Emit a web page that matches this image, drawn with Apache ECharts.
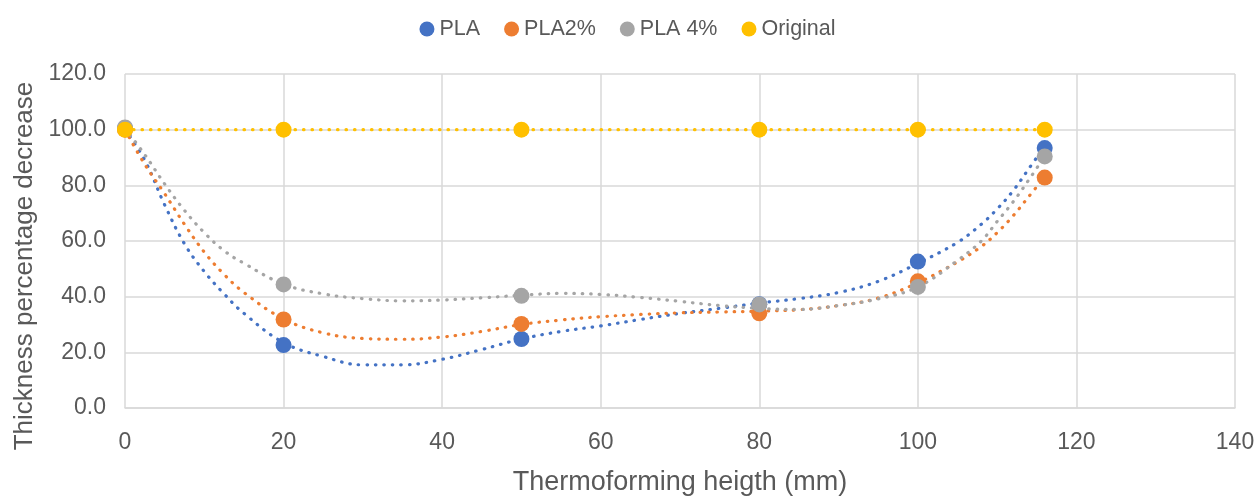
<!DOCTYPE html>
<html>
<head>
<meta charset="utf-8">
<script src="https://cdn.jsdelivr.net/npm/echarts@6/dist/echarts.min.js"></script>
<style>
  html, body { margin: 0; padding: 0; background: #fff; }
  #main { width: 1255px; height: 497px; }
</style>
</head>
<body>
<div id="main"></div>
<script>
// measured points
const xValues = [0, 20, 50, 80, 100, 116];
const pla = [100.5, 22.6, 24.8, 37.3, 52.6, 93.4];
const pla2 = [100, 31.8, 30.2, 34.0, 45.5, 82.8];
const pla4 = [100.8, 44.4, 40.3, 37.2, 43.5, 90.4];
const original = [100, 100, 100, 100, 100, 100];

// trendlines
const trendX = [0, 2.5, 5, 7.5, 10, 12.5, 15, 20, 25, 30, 35, 40, 45, 50, 55, 60, 65, 70, 75, 80, 85, 90, 95, 100, 105, 108, 110, 112, 114, 116];
const plaTrend = [100, 89, 73, 59, 49, 41, 34, 23.5, 18.5, 15.5, 15.5, 17.5, 21, 24.8, 27.5, 29.5, 31.8, 34, 35.8, 37.7, 39.3, 41.5, 45.5, 52, 59.5, 66, 71.5, 78, 86, 94];
const pla2Trend = [100, 87.5, 77, 66, 56, 48, 41.5, 32, 27, 25, 24.7, 25.5, 27.5, 30, 31.6, 32.8, 33.6, 34.2, 34.5, 34.8, 35.3, 36.8, 39.5, 45, 52.5, 58, 63, 69, 76, 83];
const pla4Trend = [100.5, 91, 80.5, 71, 63, 56.5, 52, 44.5, 41, 39.3, 38.5, 38.8, 39.6, 40.5, 41.2, 40.8, 39.7, 38.3, 36.8, 35.8, 35.4, 36.8, 39.2, 43.5, 53, 60, 67, 74, 82, 90.5];

const names = ["PLA", "PLA2%", "PLA 4%", "Original"];
const colors = ["#4472C4", "#ED7D31", "#A5A5A5", "#FFC000"];

const pairs = (xs, ys) => xs.map((x, i) => [x, ys[i]]);
const dotLine = (color) => ({ color: color, width: 3.2, type: [0.5, 8], cap: "round" });

const trendSeries = [plaTrend, pla2Trend, pla4Trend].map((ys, i) => ({
    name: names[i] + " trend",
    type: "line",
    data: pairs(trendX, ys),
    smooth: 0.4,
    showSymbol: false,
    silent: true,
    lineStyle: dotLine(colors[i]),
    z: 1,
}));

const pointSeries = [pla, pla2, pla4, original].map((ys, i) => ({
    name: names[i],
    type: i === 3 ? "line" : "scatter",
    data: pairs(xValues, ys),
    symbol: "circle",
    symbolSize: 16,
    showSymbol: true,
    itemStyle: { color: colors[i], opacity: 1 },
    lineStyle: i === 3 ? dotLine(colors[i]) : undefined,
    z: 3 + i,
}));

const textColor = "#595959";
const font = "Liberation Sans, Arial, sans-serif";

const option = {
    animation: false,
    backgroundColor: "#fff",
    textStyle: { fontFamily: font },
    legend: {
        data: names,
        top: 13,
        left: "center",
        icon: "circle",
        itemWidth: 15,
        itemHeight: 15,
        itemGap: 24,
        textStyle: { color: textColor, fontSize: 21.5, fontFamily: font },
    },
    grid: { left: 125, right: 20, top: 74, bottom: 89, outerBoundsMode: "none" },
    xAxis: {
        type: "value",
        min: 0,
        max: 140,
        interval: 20,
        name: "Thermoforming heigth (mm)",
        nameLocation: "middle",
        nameGap: 61,
        nameTextStyle: { color: textColor, fontSize: 27, fontFamily: font },
        axisLine: { show: true, lineStyle: { color: "#d9d9d9", width: 1.5 } },
        axisTick: { show: false },
        axisLabel: { color: textColor, fontSize: 23, margin: 23, fontFamily: font },
        splitLine: { show: true, lineStyle: { color: "#d9d9d9", width: 1.5 } },
    },
    yAxis: {
        type: "value",
        min: 0,
        max: 120,
        interval: 20,
        name: "Thickness percentage decrease",
        nameLocation: "middle",
        nameGap: 86,
        nameTextStyle: { color: textColor, fontSize: 26, fontFamily: font, padding: [0, 50, 0, 0] },
        axisLine: { show: false },
        axisTick: { show: false },
        axisLabel: {
            color: textColor,
            fontSize: 23,
            margin: 19,
            fontFamily: font,
            formatter: (v) => v.toFixed(1),
        },
        splitLine: { show: true, lineStyle: { color: "#d9d9d9", width: 1.5 } },
    },
    series: trendSeries.concat(pointSeries),
};

const myChart = echarts.init(document.getElementById("main"));
myChart.setOption(option);
</script>
</body>
</html>
